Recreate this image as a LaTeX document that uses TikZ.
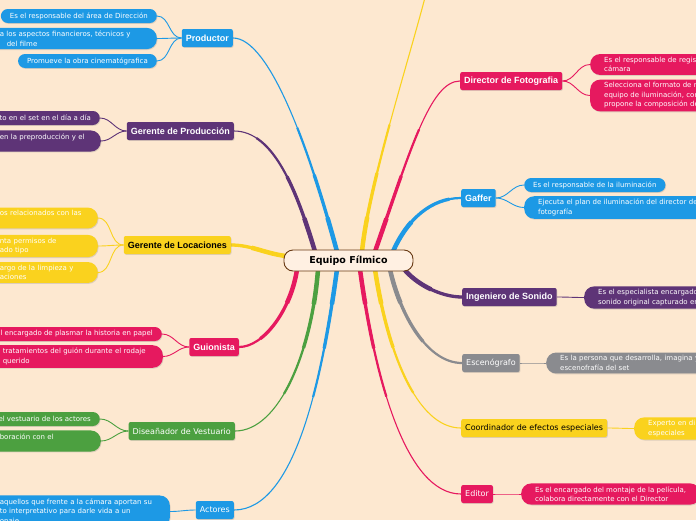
\documentclass[tikz,border=0pt]{standalone}
\usepackage{fontspec}
\setmainfont{DejaVu Sans}
\newfontfamily\rolefont{Liberation Sans}
\usetikzlibrary{shadows, backgrounds}

\definecolor{bgpeach}{RGB}{253,232,208}
\definecolor{corefill}{RGB}{255,240,226}
\definecolor{coreborder}{RGB}{105,58,20}
\definecolor{teamblue}{RGB}{29,153,229}
\definecolor{teampurple}{RGB}{94,52,119}
\definecolor{teamyellow}{RGB}{250,210,30}
\definecolor{teammagenta}{RGB}{230,25,95}
\definecolor{teamgreen}{RGB}{76,160,64}
\definecolor{teamgray}{RGB}{138,139,143}

\begin{document}
\begin{tikzpicture}[
  x=1pt, y=-1pt,
  softshadow/.style={drop shadow={shadow xshift=0.7pt, shadow yshift=-0.9pt, opacity=0.25}},
  role/.style={rectangle, rounded corners=2pt, fill=#1, text=white, minimum height=18pt,
               inner xsep=4pt, inner ysep=2pt, font=\rolefont\bfseries\fontsize{9}{11}\selectfont, softshadow},
  rolelight/.style={role=#1, font=\fontsize{8}{10}\selectfont},
  duty/.style={rectangle, rounded corners=7pt, fill=#1, text=white, minimum height=14pt,
               inner xsep=9pt, inner ysep=3pt, align=left, font=\fontsize{7}{9.5}\selectfont, softshadow},
  duty2/.style={duty=#1, inner xsep=14pt, rounded corners=10pt},
  branch/.style={draw=#1, line width=1.1pt,
                 preaction={draw=#1, line width=2.2pt, dash pattern=on 130pt off 2000pt},
                 preaction={draw=#1, line width=3.3pt, dash pattern=on 80pt off 2000pt},
                 preaction={draw=#1, line width=4.5pt, dash pattern=on 35pt off 2000pt}},
  twig/.style={draw=#1, line width=0.9pt}
]

\begin{scope}[on background layer]
  \fill[bgpeach] (0,0) rectangle (696,520);
\end{scope}
\useasboundingbox (0,0) rectangle (696,520);

% Centre
\node[draw=coreborder, fill=corefill, line width=0.9pt, rounded corners=9pt,
      minimum width=129pt, minimum height=21pt,
      font=\bfseries\fontsize{9.5}{11}\selectfont] (equipo) at (348.5,260.5) {Equipo Fílmico};

% Roles, left side
\node[role=teamblue, anchor=east] (prod) at (233,38) {Productor};
\node[role=teampurple, anchor=east] (gprod) at (234,131) {Gerente de Producción};
\node[role=teamyellow, text=black, anchor=east] (gloc) at (231,245) {Gerente de Locaciones};
\node[role=teammagenta, anchor=east] (guion) at (239,347) {Guionista};
\node[rolelight=teamgreen, anchor=east] (vest) at (235,431) {Diseañador de Vestuario};
\node[rolelight=teamblue, anchor=east] (actores) at (234,510) {Actores};

% Roles, right side
\node[role=teammagenta, anchor=west] (dirfoto) at (460,81) {Director de Fotografia};
\node[role=teamblue, anchor=west] (gaffer) at (461,198) {Gaffer};
\node[role=teampurple, anchor=west] (ingson) at (462,297) {Ingeniero de Sonido};
\node[rolelight=teamgray, anchor=west] (esceno) at (462,363) {Escenógrafo};
\node[rolelight=teamyellow, text=black, anchor=west] (coord) at (461,428) {Coordinador de efectos especiales};
\node[rolelight=teammagenta, anchor=west] (editor) at (461,494) {Editor};
\coordinate (offtop) at (436,-50);

% Duties, left side
\node[duty=teamblue, anchor=east] (prod-a) at (157,16) {Es el responsable del área de Dirección};
\node[duty2=teamblue, anchor=east, text width=143pt] (prod-b) at (157,38.5) {a los aspectos financieros, técnicos y\\\hspace*{7pt}del filme};
\node[duty=teamblue, anchor=east] (prod-c) at (157,61) {Promueve la obra cinematógrafica};

\node[duty=teampurple, anchor=east] (gprod-a) at (100,118) {to en el set en el día a día};
\node[duty2=teampurple, anchor=east, text width=87pt] (gprod-b) at (101,141) {en la preproducción y el\\\mbox{}};

\node[duty2=teamyellow, anchor=east, text width=84pt] (gloc-a) at (98,218) {os relacionados con las\\\mbox{}};
\node[duty2=teamyellow, anchor=east, text width=84pt] (gloc-b) at (98,246) {nta permisos de\\ado tipo};
\node[duty2=teamyellow, anchor=east, text width=84pt] (gloc-c) at (98,272.5) {argo de la limpieza y\\aciones};

\node[duty=teammagenta, anchor=east] (guion-a) at (162,334) {el encargado de plasmar la historia en papel};
\node[duty2=teammagenta, anchor=east, text width=146pt] (guion-b) at (163,356.5) {tratamientos del guión durante el rodaje\\querido};

\node[duty=teamgreen, anchor=east] (vest-a) at (100,419) {el vestuario de los actores};
\node[duty2=teamgreen, anchor=east, text width=87pt] (vest-b) at (101,441) {boración con el\\\mbox{}};

\node[duty2=teamblue, anchor=east, text width=156pt] (actores-a) at (170,511.5) {aquellos que frente a la cámara aportan su\\to interpretativo para darle vida a un\\onaje};

% Duties, right side
\node[duty2=teammagenta, anchor=west, text width=180pt] (dirfoto-a) at (590,64.5) {Es el responsable de regis\\cámara};
\node[duty2=teammagenta, anchor=west, text width=180pt] (dirfoto-b) at (590,95.5) {Selecciona el formato de r\\equipo de iluminación, con\\propone la composición de};
\node[duty=teamblue, anchor=west] (gaffer-a) at (524,185) {Es el responsable de la iluminación};
\node[duty2=teamblue, anchor=west, text width=180pt] (gaffer-b) at (524,207.5) {Ejecuta el plan de iluminación del director de\\fotografía};
\node[duty2=teampurple, anchor=west, text width=180pt] (ingson-a) at (584,297.5) {Es el especialista encargado\\sonido original capturado en};
\node[duty2=teamgray, anchor=west, text width=180pt] (esceno-a) at (546,363) {Es la persona que desarrolla, imagina y\\escenofrafía del set};
\node[duty2=teamyellow, anchor=west, text width=180pt] (coord-a) at (634,428.5) {Experto en di\\especiales};
\node[duty2=teammagenta, anchor=west] (editor-a) at (521,494) {Es el encargado del montaje de la película,\\colabora directamente con el Director};

% Main branches, behind the nodes
\begin{scope}[on background layer]
\draw[branch=teampurple] ([xshift=-33.5pt,yshift=-2pt]equipo.north) .. controls +(-18,-60) and +(40,0) .. (gprod.east);
\draw[branch=teamblue] ([xshift=-11.5pt,yshift=-2pt]equipo.north) .. controls +(-27,-100) and +(37,0) .. (prod.east);
\draw[branch=teamyellow] ([xshift=13.5pt,yshift=-2pt]equipo.north) .. controls +(8,-80) and +(-10,60) .. (offtop);
\draw[branch=teammagenta] ([xshift=26.5pt,yshift=-2pt]equipo.north) .. controls +(35,-100) and +(-30,0) .. (dirfoto.west);
\draw[branch=teamblue] ([xshift=44.5pt,yshift=-2pt]equipo.north) .. controls +(14,-32) and +(-30,0) .. (gaffer.west);
\draw[branch=teamyellow] ([xshift=2pt,yshift=4.5pt]equipo.west) .. controls +(-22,-3) and +(20,0) .. (gloc.east);
\draw[branch=teammagenta] ([xshift=-51.5pt,yshift=2pt]equipo.south) .. controls +(-6,40) and +(25,0) .. (guion.east);
\draw[branch=teamgreen] ([xshift=-30.5pt,yshift=2pt]equipo.south) .. controls +(-6,80) and +(45,0) .. (vest.east);
\draw[branch=teamblue] ([xshift=-11.5pt,yshift=2pt]equipo.south) .. controls +(-15,110) and +(61,0) .. (actores.east);
\draw[branch=teammagenta] ([xshift=11.5pt,yshift=2pt]equipo.south) .. controls +(15,110) and +(-55,0) .. (editor.west);
\draw[branch=teamyellow] ([xshift=26.5pt,yshift=2pt]equipo.south) .. controls +(12,80) and +(-45,0) .. (coord.west);
\draw[branch=teamgray] ([xshift=41.5pt,yshift=2pt]equipo.south) .. controls +(10,45) and +(-35,0) .. (esceno.west);
\draw[branch=teampurple] ([xshift=55pt,yshift=3pt]equipo.south) .. controls +(12,15) and +(-22,0) .. (ingson.west);
\end{scope}

% Twigs to duties
\draw[twig=teamblue] (prod.west) to[out=180,in=0] (prod-a.east);
\draw[twig=teamblue] (prod.west) to[out=180,in=0] (prod-b.east);
\draw[twig=teamblue] (prod.west) to[out=180,in=0] (prod-c.east);
\draw[twig=teampurple] (gprod.west) to[out=180,in=0] (gprod-a.east);
\draw[twig=teampurple] (gprod.west) to[out=180,in=0] (gprod-b.east);
\draw[twig=teamyellow] (gloc.west) to[out=180,in=0] (gloc-a.east);
\draw[twig=teamyellow] (gloc.west) to[out=180,in=0] (gloc-b.east);
\draw[twig=teamyellow] (gloc.west) to[out=180,in=0] (gloc-c.east);
\draw[twig=teammagenta] (guion.west) to[out=180,in=0] (guion-a.east);
\draw[twig=teammagenta] (guion.west) to[out=180,in=0] (guion-b.east);
\draw[twig=teamgreen] (vest.west) to[out=180,in=0] (vest-a.east);
\draw[twig=teamgreen] (vest.west) to[out=180,in=0] (vest-b.east);
\draw[twig=teamblue] (actores.west) to[out=180,in=0] (actores-a.east);
\draw[twig=teammagenta] (dirfoto.east) to[out=0,in=180] (dirfoto-a.west);
\draw[twig=teammagenta] (dirfoto.east) to[out=0,in=180] (dirfoto-b.west);
\draw[twig=teamblue] (gaffer.east) to[out=0,in=180] (gaffer-a.west);
\draw[twig=teamblue] (gaffer.east) to[out=0,in=180] (gaffer-b.west);
\draw[twig=teampurple] (ingson.east) to[out=0,in=180] (ingson-a.west);
\draw[twig=teamgray] (esceno.east) to[out=0,in=180] (esceno-a.west);
\draw[twig=teamyellow] (coord.east) to[out=0,in=180] (coord-a.west);
\draw[twig=teammagenta] (editor.east) to[out=0,in=180] (editor-a.west);

\end{tikzpicture}
\end{document}
